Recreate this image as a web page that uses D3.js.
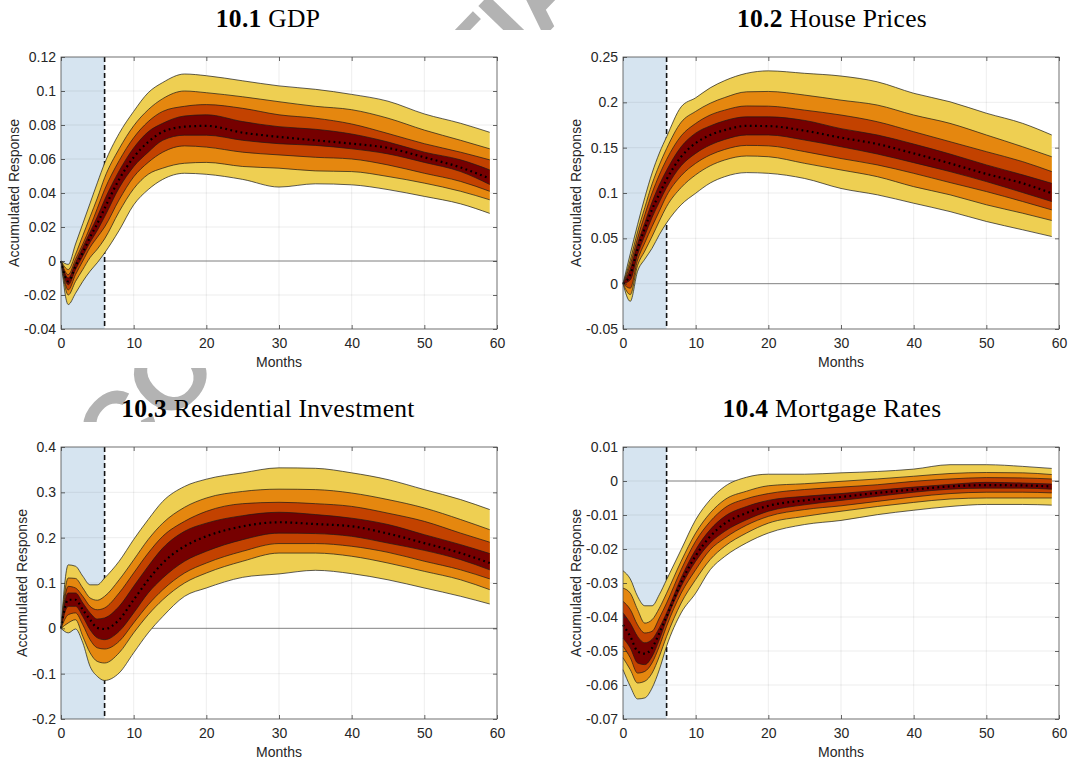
<!DOCTYPE html>
<html>
<head>
<meta charset="utf-8">
<script src="https://cdn.jsdelivr.net/npm/d3@7"></script>
<style>
  body { margin: 0; background: #fff; }
  svg text { white-space: pre; }
</style>
</head>
<body>
<div id="chart"></div>
<script>
const months = [0, 1, 2, 3, 4, 5, 6, 8, 10, 12, 14, 17, 20, 25, 30, 35, 40, 45, 50, 55, 59];
const xTicks = [0, 10, 20, 30, 40, 50, 60];

// 10.1 GDP  (bands listed from outer to inner)
const gdpMedian = [0, -0.012, -0.003, 0.005, 0.014, 0.022, 0.031, 0.048, 0.061, 0.070, 0.076, 0.079, 0.0795, 0.0755, 0.073, 0.071, 0.069, 0.0665, 0.061, 0.055, 0.0485];
const gdpUpper = [
  [0, -0.002, 0.010, 0.022, 0.034, 0.046, 0.0575, 0.075, 0.088, 0.099, 0.105, 0.110, 0.109, 0.106, 0.103, 0.101, 0.098, 0.094, 0.0865, 0.081, 0.0757],
  [0, -0.005, 0.004, 0.015, 0.026, 0.037, 0.049, 0.066, 0.0795, 0.089, 0.0955, 0.100, 0.099, 0.0966, 0.0937, 0.091, 0.089, 0.084, 0.077, 0.071, 0.066],
  [0, -0.008, 0.001, 0.010, 0.020, 0.031, 0.042, 0.059, 0.0725, 0.082, 0.088, 0.091, 0.092, 0.0898, 0.086, 0.084, 0.0806, 0.075, 0.069, 0.064, 0.0595],
  [0, -0.010, -0.001, 0.008, 0.017, 0.026, 0.036, 0.053, 0.0665, 0.076, 0.081, 0.0853, 0.086, 0.082, 0.079, 0.0775, 0.0747, 0.070, 0.064, 0.0595, 0.0536]
];
const gdpLower = [
  [0, -0.0256, -0.019, -0.012, -0.006, -0.001, 0.0047, 0.018, 0.033, 0.042, 0.048, 0.0516, 0.051, 0.048, 0.0435, 0.0454, 0.0448, 0.042, 0.038, 0.0336, 0.028],
  [0, -0.020, -0.012, -0.005, 0.002, 0.007, 0.013, 0.029, 0.0425, 0.051, 0.0546, 0.0575, 0.058, 0.0556, 0.0546, 0.053, 0.0526, 0.0497, 0.0458, 0.041, 0.036],
  [0, -0.017, -0.008, 0.000, 0.008, 0.014, 0.020, 0.036, 0.0495, 0.058, 0.064, 0.0677, 0.067, 0.064, 0.0624, 0.061, 0.060, 0.0565, 0.0516, 0.0468, 0.041],
  [0, -0.014, -0.005, 0.003, 0.011, 0.018, 0.026, 0.043, 0.0555, 0.064, 0.071, 0.074, 0.074, 0.071, 0.069, 0.068, 0.066, 0.063, 0.058, 0.0526, 0.045]
];
const gdpTicks = [-0.04, -0.02, 0, 0.02, 0.04, 0.06, 0.08, 0.1, 0.12];

// 10.2 House Prices
const houseMedian = [0, 0.010, 0.038, 0.061, 0.082, 0.099, 0.115, 0.140, 0.155, 0.164, 0.1694, 0.174, 0.1738, 0.1687, 0.161, 0.154, 0.1437, 0.1327, 0.121, 0.1107, 0.0997];
const houseUpper = [
  [0, 0.033, 0.065, 0.095, 0.122, 0.144, 0.162, 0.195, 0.205, 0.216, 0.224, 0.232, 0.2347, 0.232, 0.229, 0.2226, 0.210, 0.2006, 0.188, 0.1768, 0.164],
  [0, 0.026, 0.057, 0.084, 0.110, 0.131, 0.149, 0.178, 0.190, 0.199, 0.2053, 0.2116, 0.212, 0.208, 0.2024, 0.197, 0.186, 0.1768, 0.164, 0.151, 0.140],
  [0, 0.021, 0.050, 0.076, 0.100, 0.120, 0.137, 0.163, 0.1767, 0.186, 0.1914, 0.196, 0.1958, 0.1914, 0.186, 0.1786, 0.1676, 0.1566, 0.1456, 0.1346, 0.1236],
  [0, 0.016, 0.044, 0.067, 0.090, 0.109, 0.125, 0.151, 0.166, 0.174, 0.1797, 0.184, 0.184, 0.180, 0.171, 0.164, 0.154, 0.143, 0.131, 0.120, 0.1107]
];
const houseLower = [
  [0, -0.0195, 0.0135, 0.027, 0.039, 0.054, 0.067, 0.087, 0.0997, 0.111, 0.118, 0.1225, 0.1217, 0.116, 0.105, 0.098, 0.0887, 0.0795, 0.0686, 0.0594, 0.052],
  [0, -0.012, 0.020, 0.036, 0.052, 0.069, 0.085, 0.106, 0.120, 0.130, 0.1364, 0.1408, 0.140, 0.1327, 0.1254, 0.118, 0.107, 0.098, 0.087, 0.0777, 0.0697],
  [0, -0.005, 0.026, 0.045, 0.063, 0.080, 0.097, 0.119, 0.1327, 0.142, 0.148, 0.1525, 0.152, 0.1456, 0.138, 0.131, 0.1217, 0.1115, 0.1016, 0.0906, 0.0814],
  [0, 0.004, 0.032, 0.053, 0.073, 0.090, 0.106, 0.130, 0.1437, 0.153, 0.159, 0.164, 0.164, 0.1584, 0.151, 0.143, 0.1335, 0.1236, 0.1126, 0.1005, 0.0906]
];
const houseTicks = [-0.05, 0, 0.05, 0.1, 0.15, 0.2, 0.25];

// 10.3 Residential Investment
const resMedian = [0, 0.063, 0.063, 0.041, 0.019, 0.001, -0.0015, 0.019, 0.063, 0.107, 0.144, 0.181, 0.203, 0.225, 0.234, 0.230, 0.225, 0.209, 0.188, 0.166, 0.144];
const resUpper = [
  [0, 0.140, 0.137, 0.115, 0.096, 0.096, 0.111, 0.148, 0.196, 0.240, 0.280, 0.313, 0.329, 0.343, 0.354, 0.353, 0.343, 0.328, 0.306, 0.284, 0.262],
  [0, 0.111, 0.110, 0.089, 0.067, 0.062, 0.0706, 0.107, 0.151, 0.196, 0.232, 0.267, 0.2875, 0.302, 0.307, 0.306, 0.2985, 0.284, 0.2655, 0.240, 0.2176],
  [0, 0.0926, 0.089, 0.0706, 0.0485, 0.041, 0.045, 0.078, 0.122, 0.166, 0.203, 0.236, 0.258, 0.275, 0.278, 0.275, 0.269, 0.254, 0.236, 0.210, 0.190],
  [0, 0.078, 0.078, 0.056, 0.034, 0.0206, 0.023, 0.0485, 0.0926, 0.137, 0.177, 0.214, 0.232, 0.2485, 0.256, 0.251, 0.243, 0.229, 0.2066, 0.1846, 0.165]
];
const resLower = [
  [0, -0.010, -0.0015, -0.032, -0.084, -0.106, -0.115, -0.0985, -0.054, -0.010, 0.026, 0.0706, 0.089, 0.1125, 0.120, 0.128, 0.1206, 0.107, 0.089, 0.0706, 0.0537],
  [0, 0.012, 0.019, -0.018, -0.054, -0.073, -0.0765, -0.054, -0.010, 0.030, 0.063, 0.100, 0.122, 0.148, 0.166, 0.166, 0.159, 0.144, 0.1257, 0.107, 0.0853],
  [0, 0.030, 0.034, 0.008, -0.025, -0.043, -0.0456, -0.0287, 0.012, 0.052, 0.085, 0.122, 0.144, 0.170, 0.187, 0.187, 0.181, 0.1676, 0.148, 0.129, 0.109],
  [0, 0.0485, 0.0485, 0.026, -0.003, -0.021, -0.025, -0.0066, 0.034, 0.078, 0.111, 0.148, 0.170, 0.1956, 0.210, 0.209, 0.203, 0.188, 0.172, 0.1515, 0.129]
];
const resTicks = [-0.2, -0.1, 0, 0.1, 0.2, 0.3, 0.4];

// 10.4 Mortgage Rates
const mortMedian = [-0.0423, -0.0457, -0.0501, -0.0508, -0.0491, -0.0447, -0.0398, -0.0298, -0.022, -0.0163, -0.0125, -0.0094, -0.0073, -0.0057, -0.0047, -0.0035, -0.0025, -0.0016, -0.0012, -0.0013, -0.0016];
const mortUpper = [
  [-0.0264, -0.0288, -0.0339, -0.0367, -0.0367, -0.0334, -0.029, -0.0202, -0.0114, -0.0055, -0.0016, 0.0011, 0.002, 0.002, 0.0024, 0.0028, 0.0035, 0.0048, 0.0048, 0.0043, 0.0037],
  [-0.0315, -0.033, -0.0378, -0.0418, -0.0408, -0.0374, -0.033, -0.0236, -0.0153, -0.0094, -0.0055, -0.003, -0.0014, -0.0008, -0.0001, 0.0006, 0.0014, 0.0022, 0.0025, 0.0024, 0.0019],
  [-0.0354, -0.0378, -0.0423, -0.0447, -0.0442, -0.0403, -0.0359, -0.0261, -0.0177, -0.0119, -0.0079, -0.0052, -0.0037, -0.0025, -0.0018, -0.0011, -0.0001, 0.0006, 0.001, 0.0009, 0.0006],
  [-0.0388, -0.0418, -0.0457, -0.0476, -0.0466, -0.0432, -0.0388, -0.0285, -0.0202, -0.0143, -0.0104, -0.0075, -0.0057, -0.0045, -0.0037, -0.0027, -0.0018, -0.001, -0.0004, -0.0006, -0.0009]
];
const mortLower = [
  [-0.0555, -0.0604, -0.0641, -0.0638, -0.0609, -0.0555, -0.0486, -0.0388, -0.033, -0.0261, -0.0222, -0.0182, -0.0153, -0.0128, -0.0116, -0.0099, -0.0086, -0.0075, -0.0069, -0.0069, -0.0071],
  [-0.052, -0.0555, -0.0594, -0.0589, -0.0565, -0.0516, -0.0457, -0.0359, -0.029, -0.0231, -0.0192, -0.0153, -0.0124, -0.0104, -0.0089, -0.0075, -0.0063, -0.0053, -0.005, -0.005, -0.005],
  [-0.0486, -0.052, -0.0565, -0.056, -0.0535, -0.0486, -0.0427, -0.033, -0.0261, -0.0202, -0.0168, -0.013, -0.0104, -0.0084, -0.0073, -0.006, -0.0047, -0.0037, -0.0033, -0.0033, -0.0035],
  [-0.0462, -0.0491, -0.0535, -0.054, -0.0516, -0.0467, -0.0408, -0.031, -0.0236, -0.0182, -0.0148, -0.0114, -0.0089, -0.007, -0.0057, -0.0045, -0.0033, -0.0024, -0.0021, -0.0021, -0.0024]
];
const mortTicks = [-0.07, -0.06, -0.05, -0.04, -0.03, -0.02, -0.01, 0, 0.01];

const bandColors = ["#EECF52", "#E5870F", "#C34200", "#760000"];
const shockEnd = 6;

// Define the Size of the SVG Container
const width = 1071;
const height = 764;

const svg = d3.select("#chart")
  .append("svg")
  .attr("width", width)
  .attr("height", height)
  .style("display", "block");

svg.append("rect").attr("width", width).attr("height", height).attr("fill", "#fff");

// Watermark behind the sub-figures
svg.append("text")
  .attr("transform", "translate(118,478) rotate(-46)")
  .attr("font-family", "Liberation Sans, Arial, sans-serif")
  .attr("font-weight", "bold")
  .attr("font-size", 100)
  .attr("fill", "#b3b3b3")
  .text("CONFIDENTIAL");

// White sub-figure backgrounds hide most of the watermark
svg.append("rect").attr("x", 0).attr("y", 30).attr("width", width).attr("height", 338).attr("fill", "#fff");
svg.append("rect").attr("x", 0).attr("y", 422).attr("width", width).attr("height", 342).attr("fill", "#fff");

function drawPanel(p) {
  const x = d3.scaleLinear().domain([0, 60]).range([p.left, p.left + p.w]);
  const y = d3.scaleLinear().domain(d3.extent(p.ticks)).range([p.top + p.h, p.top]);
  const g = svg.append("g");

  // Title
  const title = svg.append("text")
    .attr("x", p.titleX)
    .attr("y", p.top - 30)
    .attr("text-anchor", "middle")
    .attr("font-family", "Liberation Serif, Times New Roman, serif")
    .attr("font-size", 25.5)
    .attr("letter-spacing", 0.3)
    .attr("fill", "#000");
  title.append("tspan").attr("font-weight", "bold").text(p.num);
  title.append("tspan").text(" " + p.name);

  // Plot background and shock window
  g.append("rect")
    .attr("x", p.left).attr("y", p.top).attr("width", p.w).attr("height", p.h)
    .attr("fill", "#fff");
  g.append("rect")
    .attr("x", x(0)).attr("y", p.top).attr("width", x(shockEnd) - x(0)).attr("height", p.h)
    .attr("fill", "#d6e4f0");

  // Grid lines
  g.selectAll(".gx").data(xTicks.slice(1, -1)).enter().append("line")
    .attr("x1", d => x(d)).attr("x2", d => x(d))
    .attr("y1", p.top).attr("y2", p.top + p.h)
    .attr("stroke", "#262626").attr("stroke-opacity", 0.1).attr("stroke-width", 0.8);
  g.selectAll(".gy").data(p.ticks.slice(1, -1)).enter().append("line")
    .attr("x1", p.left).attr("x2", p.left + p.w)
    .attr("y1", d => y(d)).attr("y2", d => y(d))
    .attr("stroke", "#262626").attr("stroke-opacity", 0.1).attr("stroke-width", 0.8);

  // Zero line after the shock window
  g.append("line")
    .attr("x1", x(shockEnd)).attr("x2", x(60))
    .attr("y1", y(0)).attr("y2", y(0))
    .attr("stroke", "#7a7a7a").attr("stroke-width", 0.9);

  // Dashed line at end of shock window
  g.append("line")
    .attr("x1", x(shockEnd)).attr("x2", x(shockEnd))
    .attr("y1", p.top).attr("y2", p.top + p.h)
    .attr("stroke", "#111").attr("stroke-width", 1.6)
    .attr("stroke-dasharray", "5,3");

  // Fan bands from outer to inner
  const area = d3.area()
    .x((d, i) => x(months[i]))
    .y0(d => y(d[0]))
    .y1(d => y(d[1]))
    .curve(d3.curveMonotoneX);
  const line = d3.line()
    .x((d, i) => x(months[i]))
    .y(d => y(d))
    .curve(d3.curveMonotoneX);

  p.lower.forEach(function(lo, k) {
    const hi = p.upper[k];
    g.append("path")
      .datum(lo.map((v, i) => [v, hi[i]]))
      .attr("d", area)
      .attr("fill", bandColors[k]);
    g.append("path").datum(hi).attr("d", line)
      .attr("fill", "none").attr("stroke", "#1a1a1a").attr("stroke-width", 0.7);
    g.append("path").datum(lo).attr("d", line)
      .attr("fill", "none").attr("stroke", "#1a1a1a").attr("stroke-width", 0.7);
  });

  // Median response, dotted
  g.append("path").datum(p.median).attr("d", line)
    .attr("fill", "none").attr("stroke", "#000").attr("stroke-width", 2.2)
    .attr("stroke-dasharray", "1.8,3.4");

  // Axes with inward ticks
  const fmt = d => d === 0 ? "0" : String(+d.toFixed(3));
  const axisStyle = sel => {
    sel.selectAll("text")
      .attr("font-family", "Liberation Sans, Arial, sans-serif")
      .attr("font-size", 14)
      .attr("fill", "#262626");
    sel.selectAll("line").attr("stroke", "#262626").attr("stroke-width", 0.7);
    sel.select(".domain").remove();
  };

  g.append("g")
    .attr("transform", "translate(0," + (p.top + p.h) + ")")
    .call(d3.axisBottom(x).tickValues(xTicks).tickSize(-4).tickPadding(9).tickFormat(fmt))
    .call(axisStyle);
  g.append("g")
    .attr("transform", "translate(0," + p.top + ")")
    .call(d3.axisTop(x).tickValues(xTicks).tickSize(-4).tickFormat(""))
    .call(axisStyle);
  const yAxis = g.append("g")
    .attr("transform", "translate(" + p.left + ",0)")
    .call(d3.axisLeft(y).tickValues(p.ticks).tickSize(-4).tickPadding(5).tickFormat(fmt))
    .call(axisStyle);
  g.append("g")
    .attr("transform", "translate(" + (p.left + p.w) + ",0)")
    .call(d3.axisRight(y).tickValues(p.ticks).tickSize(-4).tickFormat(""))
    .call(axisStyle);

  // Box
  g.append("rect")
    .attr("x", p.left).attr("y", p.top).attr("width", p.w).attr("height", p.h)
    .attr("fill", "none").attr("stroke", "#4d4d4d").attr("stroke-width", 0.8);

  // Axis labels
  g.append("text")
    .attr("x", p.left + p.w / 2)
    .attr("y", p.top + p.h + 38)
    .attr("text-anchor", "middle")
    .attr("font-family", "Liberation Sans, Arial, sans-serif")
    .attr("font-size", 14)
    .attr("fill", "#262626")
    .text("Months");

  const labelLeft = d3.min(yAxis.selectAll("text").nodes(), n => n.getBBox().x) + p.left;
  const lx = labelLeft - 5;
  const ly = p.top + p.h / 2;
  g.append("text")
    .attr("transform", "translate(" + lx + "," + ly + ") rotate(-90)")
    .attr("text-anchor", "middle")
    .attr("font-family", "Liberation Sans, Arial, sans-serif")
    .attr("font-size", 14)
    .attr("fill", "#262626")
    .text("Accumulated Response");
}

drawPanel({ num: "10.1", name: "GDP", left: 61, top: 57, w: 436, h: 272, titleX: 268,
  ticks: gdpTicks, median: gdpMedian, upper: gdpUpper, lower: gdpLower });
drawPanel({ num: "10.2", name: "House Prices", left: 623, top: 57, w: 436, h: 272, titleX: 832,
  ticks: houseTicks, median: houseMedian, upper: houseUpper, lower: houseLower });
drawPanel({ num: "10.3", name: "Residential Investment", left: 61, top: 447, w: 436, h: 272, titleX: 268,
  ticks: resTicks, median: resMedian, upper: resUpper, lower: resLower });
drawPanel({ num: "10.4", name: "Mortgage Rates", left: 623, top: 447, w: 436, h: 272, titleX: 832,
  ticks: mortTicks, median: mortMedian, upper: mortUpper, lower: mortLower });
</script>
</body>
</html>
